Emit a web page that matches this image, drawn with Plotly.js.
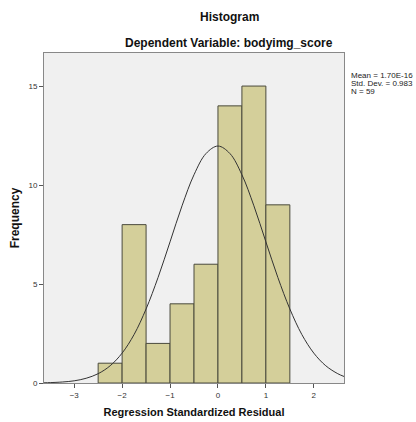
<!DOCTYPE html>
<html>
<head>
<meta charset="utf-8">
<script src="https://cdn.plot.ly/plotly-3.0.1.min.js"></script>
<style>html,body{margin:0;padding:0;background:#fff;}#chart{width:416px;height:422px;}</style>
</head>
<body>
<div id="chart"></div>
<script>
// Histogram bins (centers) and frequencies
var binCenters = [-2.25, -1.75, -1.25, -0.75, -0.25, 0.25, 0.75, 1.25];
var frequencies = [1, 8, 2, 4, 6, 14, 15, 9];
var binWidth = 0.5;

// Normal curve points
var curveX = [-3.63, -3.5, -3.25, -3.0, -2.75, -2.5, -2.25, -2.0, -1.75, -1.5, -1.25, -1.0, -0.75, -0.5, -0.25, 0.0, 0.25, 0.5, 0.75, 1.0, 1.25, 1.5, 1.75, 2.0, 2.25, 2.5, 2.63];
var curveY = [0.01, 0.02, 0.05, 0.11, 0.24, 0.47, 0.87, 1.51, 2.45, 3.74, 5.33, 7.13, 8.95, 10.52, 11.59, 11.97, 11.59, 10.52, 8.95, 7.13, 5.33, 3.74, 2.45, 1.51, 0.87, 0.47, 0.33];

var xTicks = [-3, -2, -1, 0, 1, 2];
var yTicks = [0, 5, 10, 15];
var statsLines = ["Mean = 1.70E-16", "Std. Dev. = 0.983", "N = 59"];

var FONT = "'Liberation Sans', Arial, sans-serif";

var traces = [
  {
    type: 'bar',
    x: binCenters,
    y: frequencies,
    width: binWidth,
    marker: {color: '#d4cf9a', line: {color: '#4a4a3c', width: 1}},
    hoverinfo: 'skip'
  },
  {
    type: 'scatter',
    mode: 'lines',
    x: curveX,
    y: curveY,
    line: {color: '#333333', width: 1, shape: 'spline'},
    hoverinfo: 'skip'
  }
];

var annotations = [
  {text: '<b>Histogram</b>', xref: 'paper', yref: 'paper', x: 0.617, y: 1.0, yshift: 36, showarrow: false,
   font: {family: FONT, size: 12, color: '#111'}, xanchor: 'center', yanchor: 'middle'},
  {text: '<b>Dependent Variable: bodyimg_score</b>', xref: 'paper', yref: 'paper', x: 0.617, y: 1.0, yshift: 10, showarrow: false,
   font: {family: FONT, size: 12, color: '#111'}, xanchor: 'center', yanchor: 'middle'}
];
for (var i = 0; i < statsLines.length; i++) {
  annotations.push({
    text: statsLines[i], xref: 'paper', yref: 'paper', x: 1.0, xshift: 5, y: 1.0, yshift: -22 - 8 * i,
    showarrow: false, xanchor: 'left', yanchor: 'middle',
    font: {family: FONT, size: 8, color: '#222'}
  });
}

var layout = {
  width: 416,
  height: 422,
  margin: {l: 44, r: 72, t: 53, b: 39},
  paper_bgcolor: '#ffffff',
  plot_bgcolor: '#f0f0f0',
  showlegend: false,
  bargap: 0,
  xaxis: {
    range: [-3.63, 2.63],
    tickvals: xTicks,
    ticktext: xTicks.map(function(v){ return v < 0 ? '\u2212' + Math.abs(v) : String(v); }),
    ticks: 'outside', ticklen: 4, tickcolor: '#555',
    showgrid: false, zeroline: false,
    showline: true, mirror: true, linecolor: '#888', linewidth: 1,
    tickfont: {family: FONT, size: 8, color: '#333'},
    title: {text: '<b>Regression Standardized Residual</b>', font: {family: FONT, size: 11, color: '#111'}, standoff: 9}
  },
  yaxis: {
    range: [0, 16.67],
    tickvals: yTicks,
    ticks: 'outside', ticklen: 4, tickcolor: '#555',
    showgrid: false, zeroline: false,
    showline: true, mirror: true, linecolor: '#888', linewidth: 1,
    tickfont: {family: FONT, size: 8, color: '#333'},
    title: {text: '<b>Frequency</b>', font: {family: FONT, size: 12, color: '#111'}, standoff: 6}
  },
  annotations: annotations
};

Plotly.newPlot('chart', traces, layout, {displayModeBar: false, staticPlot: true});
</script>
</body>
</html>
